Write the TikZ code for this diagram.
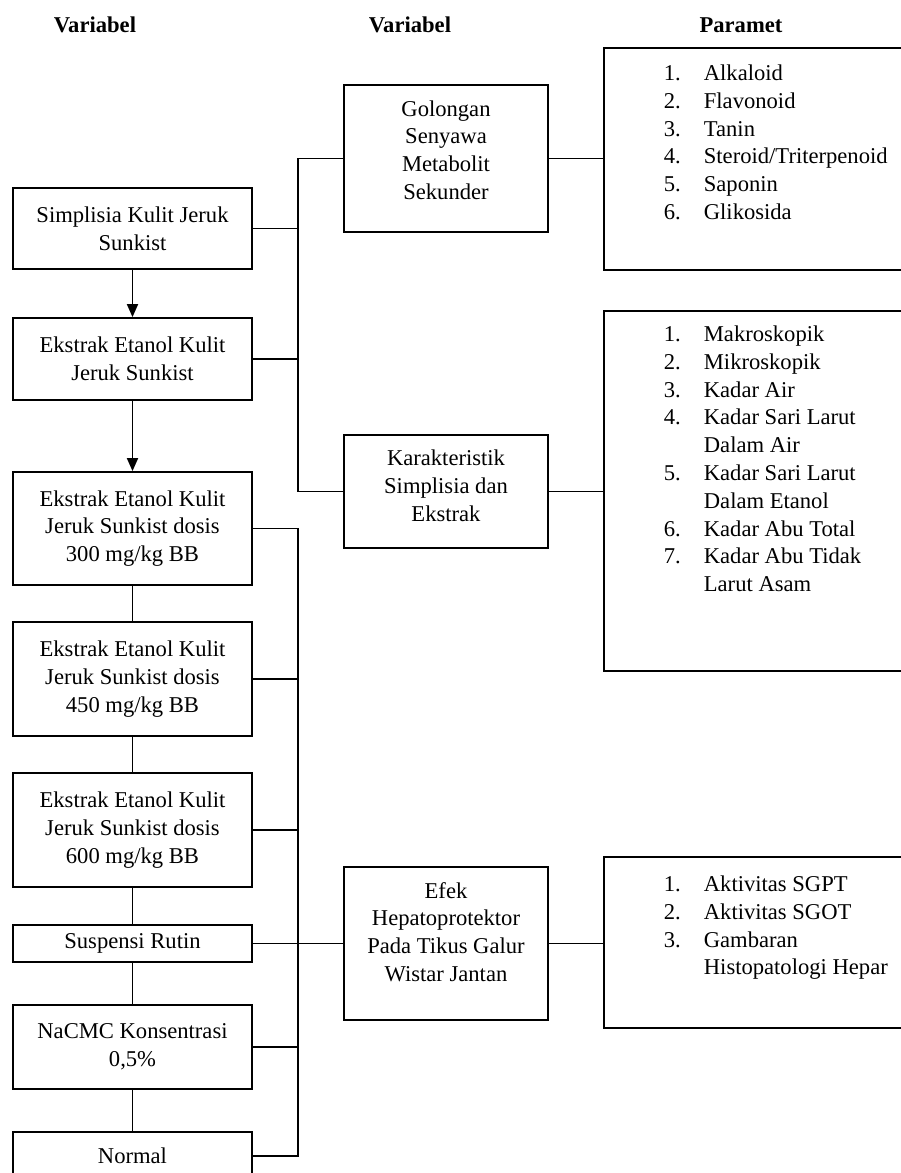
\documentclass[tikz,border=0pt]{standalone}
\usepackage{fontspec}
\setmainfont{Liberation Serif}
\usetikzlibrary{arrows.meta,positioning}
\newcommand{\numitem}[1]{\makebox[20pt][l]{#1}}

\begin{document}
\begin{tikzpicture}[x=0.5pt,y=-0.5pt,line width=0.9pt,>={Triangle[length=6.5pt,width=5.5pt]},
 box/.style={draw,align=center,inner sep=0pt,minimum width=119.5pt},
 mid/.style={draw,minimum width=102pt},
 par/.style={draw,minimum width=153pt},
 txt/.style={align=center,inner sep=0pt},
 lst/.style={align=left,inner sep=0pt,anchor=north west},
 head/.style={font=\fontsize{11.3}{13.9}\selectfont\bfseries},
 font=\fontsize{11.3}{13.9}\selectfont]
\useasboundingbox (0,0) rectangle (900,1173);
% headers
\node[head] (h1) at (95,25) {Variabel};
\node[head] (h2) at (410,25) {Variabel};
\node[head] (h3) at (741,25) {Paramet};
% left column
\node[box,minimum height=40.5pt] (simp) at (132.5,228.5) {Simplisia Kulit Jeruk\\Sunkist};
\node[box,minimum height=41pt] (ek) at (132.5,359) {Ekstrak Etanol Kulit\\Jeruk Sunkist};
\node[box,minimum height=56.5pt] (d300) at (132.5,528.5) {Ekstrak Etanol Kulit\\Jeruk Sunkist dosis\\300 mg/kg BB};
\node[box,minimum height=57pt] (d450) at (132.5,679) {Ekstrak Etanol Kulit\\Jeruk Sunkist dosis\\450 mg/kg BB};
\node[box,minimum height=57pt] (d600) at (132.5,830) {Ekstrak Etanol Kulit\\Jeruk Sunkist dosis\\600 mg/kg BB};
\node[box,minimum height=18.5pt] (susp) at (132.5,943.5) {Suspensi Rutin};
\node[box,minimum height=42pt] (nacmc) at (132.5,1047) {NaCMC Konsentrasi\\0,5\%};
\node[box,minimum height=24pt] (normal) at (132.5,1156) {Normal};
% middle column
\node[mid,minimum height=73.5pt] (gol) at (446,158.5) {};
\node[txt] (golt) at (446,150) {Golongan\\Senyawa\\Metabolit\\Sekunder};
\node[mid,minimum height=56.5pt] (kar) at (446,491.5) {};
\node[txt] (kart) at (446,486) {Karakteristik\\Simplisia dan\\Ekstrak};
\node[mid,minimum height=76.5pt] (efek) at (446,943.5) {};
\node[txt] (efekt) at (446,932) {Efek\\Hepatoprotektor\\Pada Tikus Galur\\Wistar Jantan};
% parameters
\node[par,minimum height=111pt] (p1) at (757,159) {};
\node[lst] (p1t) at (663,64) {\numitem{1.}Alkaloid\\\numitem{2.}Flavonoid\\\numitem{3.}Tanin\\
 \numitem{4.}Steroid/Triterpenoid\\\numitem{5.}Saponin\\\numitem{6.}Glikosida};
\node[par,minimum height=180pt] (p2) at (757,491) {};
\node[lst] (p2t) at (663,325) {\numitem{1.}Makroskopik\\\numitem{2.}Mikroskopik\\\numitem{3.}Kadar Air\\
 \numitem{4.}Kadar Sari Larut\\\numitem{}Dalam Air\\\numitem{5.}Kadar Sari Larut\\\numitem{}Dalam Etanol\\
 \numitem{6.}Kadar Abu Total\\\numitem{7.}Kadar Abu Tidak\\\numitem{}Larut Asam};
\node[par,minimum height=85.5pt] (p3) at (757,942.5) {};
\node[lst] (p3t) at (663,875) {\numitem{1.}Aktivitas SGPT\\\numitem{2.}Aktivitas SGOT\\\numitem{3.}Gambaran\\
 \numitem{}Histopatologi Hepar};
% connectors
\draw[->] (simp) -- (ek);
\draw[->] (ek) -- (d300);
\draw (d300) -- (d450) (d450) -- (d600) (d600) -- (susp) (susp) -- (nacmc) (nacmc) -- (normal);
\coordinate (bus) at (298,0);
\draw (gol.west) -- (gol.west -| bus) -- (kar.west -| bus) -- (kar.west);
\draw (simp.east) -- (simp.east -| bus);
\draw (ek.east) -- (ek.east -| bus);
\draw (d300.east) -- (d300.east -| bus) -- (normal.east -| bus) -- (normal.east);
\foreach \n in {d450,d600,susp,nacmc} \draw (\n.east) -- (\n.east -| bus);
\draw (efek.west) -- (efek.west -| bus);
\draw (gol.east) -- (gol.east -| p1.west);
\draw (kar.east) -- (kar.east -| p2.west);
\draw (efek.east) -- (efek.east -| p3.west);
\end{tikzpicture}
\end{document}
